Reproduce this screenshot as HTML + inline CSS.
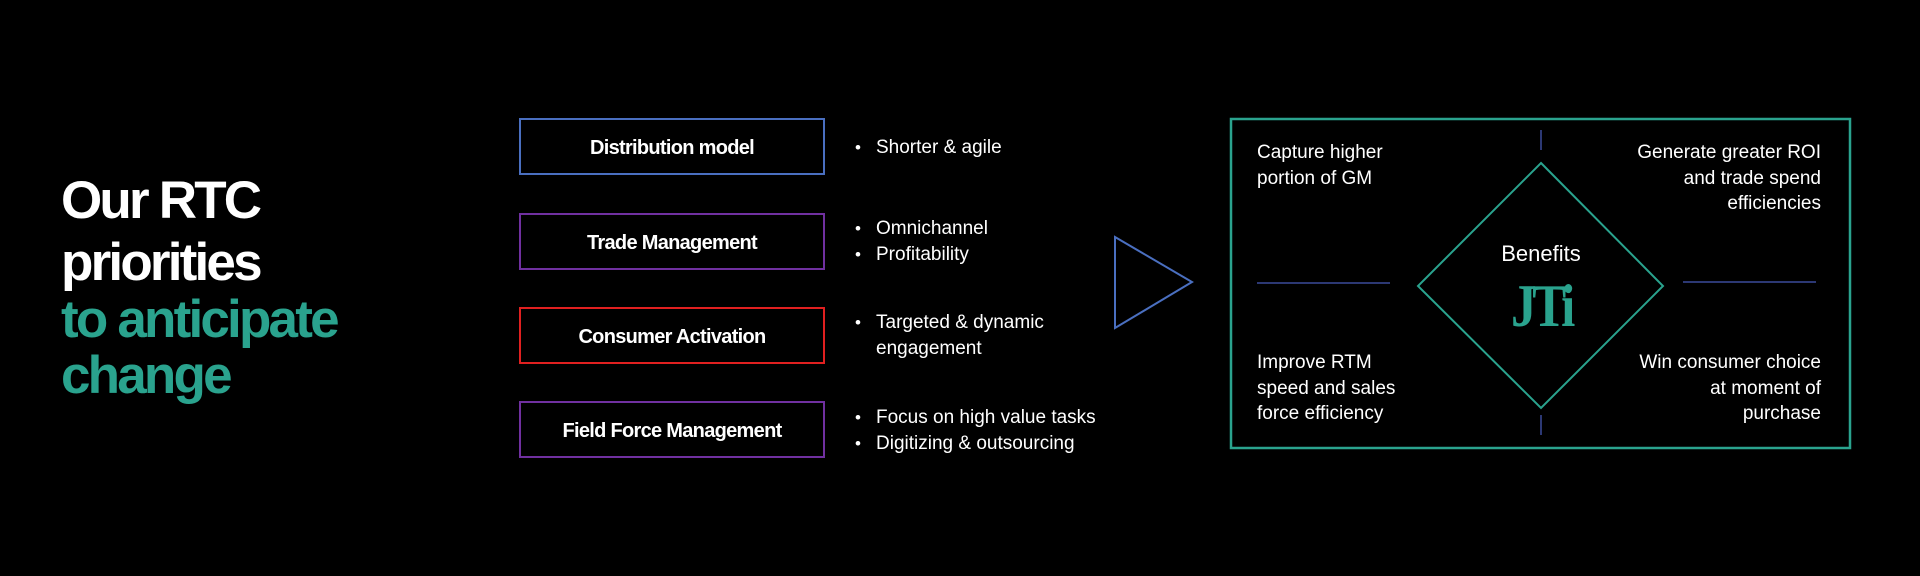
<!DOCTYPE html>
<html><head><meta charset="utf-8"><style>
body{margin:0;background:#000;width:1920px;height:576px;overflow:hidden;position:relative;font-family:"Liberation Sans",Arial,sans-serif;color:#fff}
.t{position:absolute;white-space:nowrap}
.title{left:61px;font-weight:bold;font-size:53px;letter-spacing:-2.8px;line-height:56px}
.box{position:absolute;left:519px;width:306px;padding-top:4px;box-sizing:border-box;height:57px;display:flex;align-items:center;justify-content:center;font-weight:bold;font-size:20px;letter-spacing:-0.7px}
.b{position:absolute;left:855px;font-size:19px;line-height:26px}
.b div{position:relative;padding-left:21px}
.b div.d:before{content:"•";position:absolute;left:0;font-size:17px}
.q{position:absolute;font-size:19px;line-height:25.5px}
</style></head><body>
<div class="t title" style="top:173px">Our RTC</div>
<div class="t title" style="top:235px">priorities</div>
<div class="t title" style="top:292px;color:#2aa38e">to anticipate</div>
<div class="t title" style="top:348px;color:#2aa38e">change</div>

<div class="box" style="top:118px;border:2px solid #4a6fc0">Distribution model</div>
<div class="box" style="top:213px;border:2px solid #7030a0">Trade Management</div>
<div class="box" style="top:307px;border:2px solid #e02020">Consumer Activation</div>
<div class="box" style="top:401px;border:2px solid #7030a0">Field Force Management</div>

<div class="b" style="top:135px"><div class="d">Shorter &amp; agile</div></div>
<div class="b" style="top:216px"><div class="d">Omnichannel</div><div class="d">Profitability</div></div>
<div class="b" style="top:310px"><div class="d">Targeted &amp; dynamic</div><div>engagement</div></div>
<div class="b" style="top:405px"><div class="d">Focus on high value tasks</div><div class="d">Digitizing &amp; outsourcing</div></div>

<svg width="1920" height="576" style="position:absolute;left:0;top:0">
<polygon points="1115,237 1192,282 1115,328" fill="none" stroke="#4a6fc0" stroke-width="2"/>
<rect x="1231" y="119" width="619" height="329" fill="none" stroke="#2aa38e" stroke-width="2.5"/>
<polygon points="1541,163 1663,286 1541,408 1418,286" fill="none" stroke="#2aa38e" stroke-width="2"/>
<line x1="1541" y1="130" x2="1541" y2="150" stroke="#3a4a9a" stroke-width="1.5"/>
<line x1="1541" y1="415" x2="1541" y2="435" stroke="#3a4a9a" stroke-width="1.5"/>
<line x1="1257" y1="283" x2="1390" y2="283" stroke="#3a4a9a" stroke-width="1.5"/>
<line x1="1683" y1="282" x2="1816" y2="282" stroke="#3a4a9a" stroke-width="1.5"/>
</svg>
<div class="t" style="left:1441px;width:200px;text-align:center;top:241px;font-size:22px">Benefits</div>
<div class="t" style="left:1441px;width:200px;text-align:center;top:274px;font-family:'Liberation Serif',serif;font-weight:bold;font-size:60px;line-height:64px;color:#2aa38e;letter-spacing:-5px;transform:scaleX(0.85)">JTi</div>

<div class="q" style="left:1257px;top:140px">Capture higher<br>portion of GM</div>
<div class="q" style="right:99px;top:140px;text-align:right">Generate greater ROI<br>and trade spend<br>efficiencies</div>
<div class="q" style="left:1257px;top:350px">Improve RTM<br>speed and sales<br>force efficiency</div>
<div class="q" style="right:99px;top:350px;text-align:right">Win consumer choice<br>at moment of<br>purchase</div>
</body></html>
